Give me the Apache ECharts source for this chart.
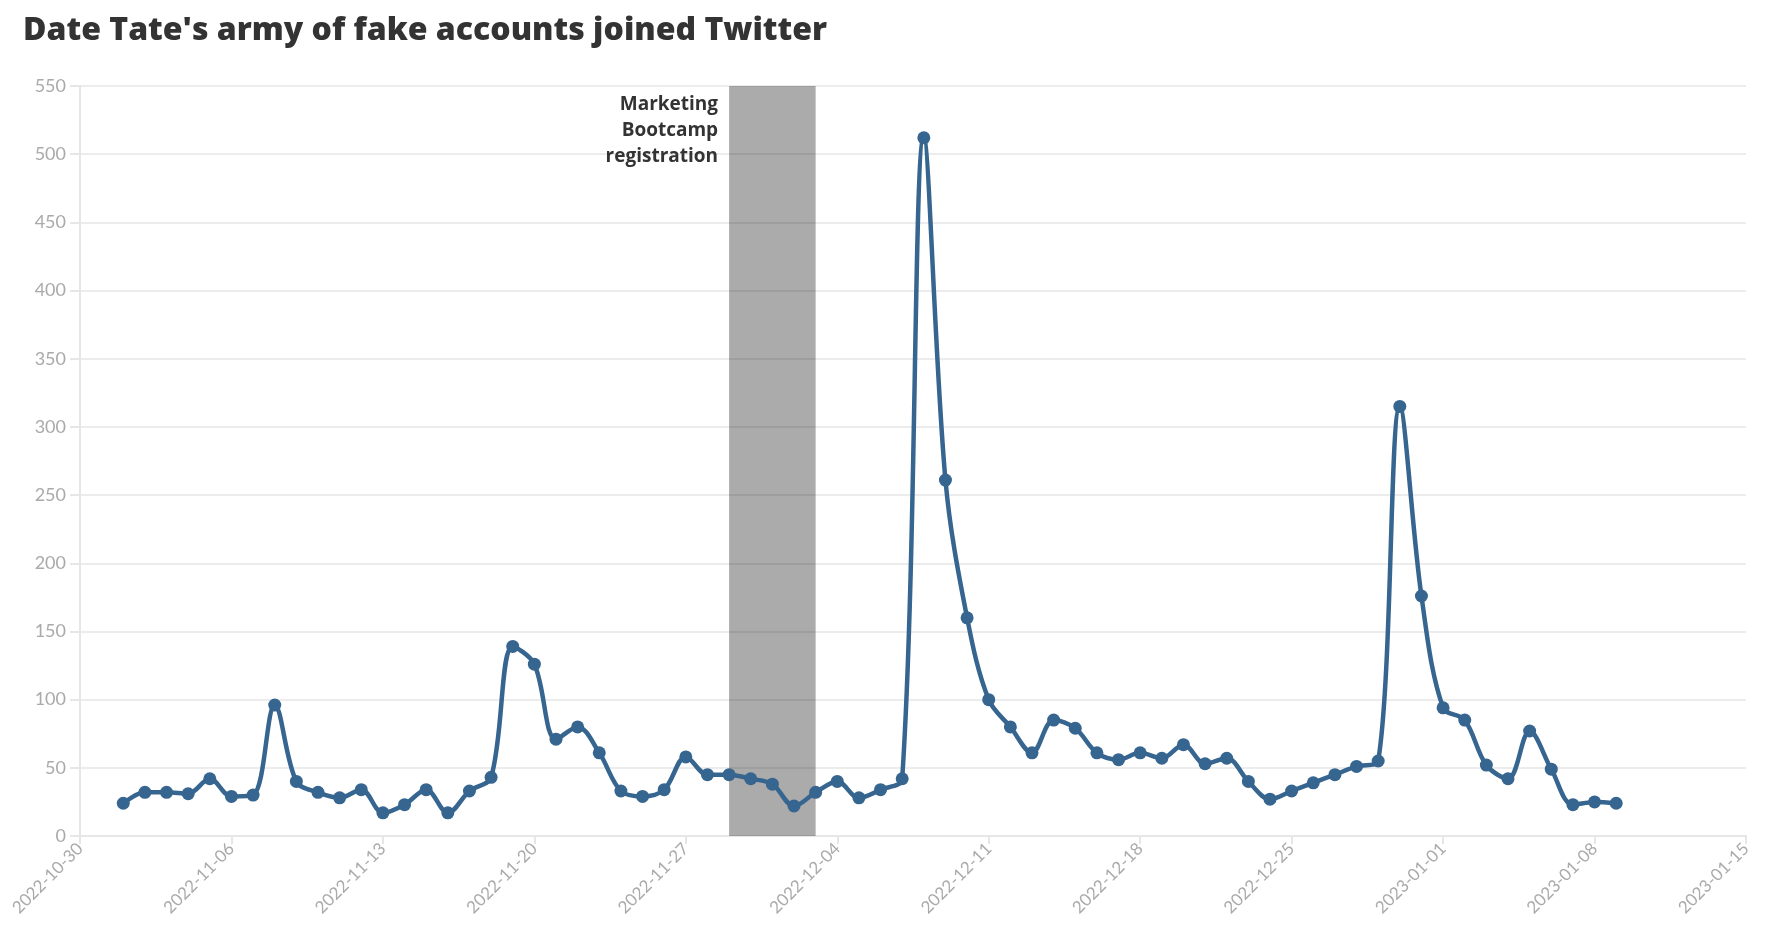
<!DOCTYPE html>
<html><head><meta charset="utf-8">
<script src="https://cdn.jsdelivr.net/npm/echarts@6/dist/echarts.min.js"></script>
<style>html,body{margin:0;padding:0;background:#fff}#c{width:1778px;height:952px}</style>
</head><body><div id="c"></div>
<script>
const titleText = "Date Tate's army of fake accounts joined Twitter";
const dates = [
"2022-11-01","2022-11-02","2022-11-03","2022-11-04","2022-11-05","2022-11-06","2022-11-07","2022-11-08","2022-11-09","2022-11-10",
"2022-11-11","2022-11-12","2022-11-13","2022-11-14","2022-11-15","2022-11-16","2022-11-17","2022-11-18","2022-11-19","2022-11-20",
"2022-11-21","2022-11-22","2022-11-23","2022-11-24","2022-11-25","2022-11-26","2022-11-27","2022-11-28","2022-11-29","2022-11-30",
"2022-12-01","2022-12-02","2022-12-03","2022-12-04","2022-12-05","2022-12-06","2022-12-07","2022-12-08","2022-12-09","2022-12-10",
"2022-12-11","2022-12-12","2022-12-13","2022-12-14","2022-12-15","2022-12-16","2022-12-17","2022-12-18","2022-12-19","2022-12-20",
"2022-12-21","2022-12-22","2022-12-23","2022-12-24","2022-12-25","2022-12-26","2022-12-27","2022-12-28","2022-12-29","2022-12-30",
"2022-12-31","2023-01-01","2023-01-02","2023-01-03","2023-01-04","2023-01-05","2023-01-06","2023-01-07","2023-01-08","2023-01-09"];
const accounts = [
24,32,32,31,42,29,30,96,40,32,
28,34,17,23,34,17,33,43,139,126,
71,80,61,33,29,34,58,45,45,42,
38,22,32,40,28,34,42,512,261,160,
100,80,61,85,79,61,56,61,57,67,
53,57,40,27,33,39,45,51,55,315,
176,94,85,52,42,77,49,23,25,24];
const bandStart = "2022-11-29";
const bandEnd = "2022-12-03";
const bandLabel = "Marketing\nBootcamp\nregistration";
const xMin = "2022-10-30";
const xMax = "2023-01-15";
const yMax = 550;

const DAY = 86400000;
const ts = d => Date.parse(d + "T00:00:00Z");
const fmt = v => new Date(v).toISOString().slice(0,10);
const seriesData = dates.map((d,i)=>[ts(d), accounts[i]]);

const chart = echarts.init(document.getElementById('c'), null, {renderer:'canvas'});
chart.setOption({
  animation:false,
  backgroundColor:'#fff',
  title:{text:titleText,left:18,top:10,textStyle:{fontFamily:'Open Sans',fontWeight:800,fontSize:32,color:'#333'}},
  grid:{left:80,right:32,top:86,bottom:116,containLabel:false},
  xAxis:{type:'value',min:ts(xMin),max:ts(xMax),interval:7*DAY,
    axisLine:{show:true,lineStyle:{color:'#e6e6e6',width:2}},
    axisTick:{show:true,length:8,lineStyle:{color:'#e6e6e6',width:2}},
    splitLine:{show:false},
    axisLabel:{rotate:45,color:'#aaa',fontFamily:'Lato',fontSize:17,formatter:fmt,margin:10}},
  yAxis:{type:'value',min:0,max:yMax,interval:50,
    axisLine:{show:true,lineStyle:{color:'#e6e6e6',width:2}},
    axisTick:{show:true,length:10,lineStyle:{color:'#e6e6e6',width:2}},
    splitLine:{show:true,lineStyle:{color:'#e6e6e6',width:1.5}},
    axisLabel:{color:'#aaa',fontFamily:'Lato',fontSize:18,margin:14}},
  series:[
    {type:'line',data:seriesData,smooth:0.35,symbol:'circle',symbolSize:13,z:2,
     lineStyle:{color:'#36658f',width:4.5},itemStyle:{color:'#36658f'}},
    {type:'line',data:[],z:5,
     markArea:{silent:true,itemStyle:{color:'rgba(0,0,0,0.33)'},
       label:{show:true,position:[-11,6],align:'right',verticalAlign:'top',formatter:bandLabel,
         color:'#333',fontFamily:'Open Sans',fontWeight:700,fontSize:19,lineHeight:26},
       data:[[{xAxis:ts(bandStart)},{xAxis:ts(bandEnd)}]]}}
  ]
});
</script></body></html>
